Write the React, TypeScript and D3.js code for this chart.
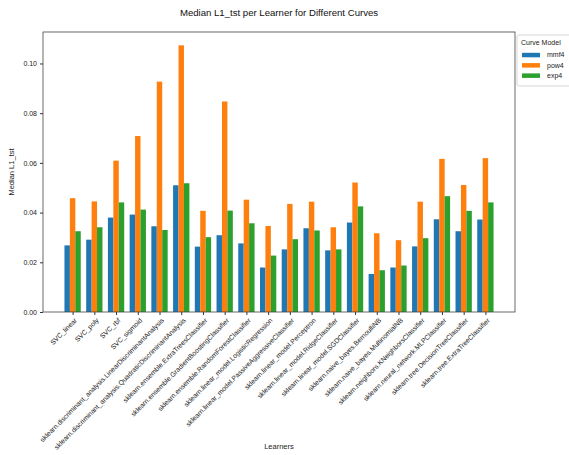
import React, { useEffect, useRef } from 'react';
import * as d3 from 'd3';

const W = 569, H = 455;
const MARGIN = { top: 32, right: 54, bottom: 143, left: 43 };
const INNER_W = W - MARGIN.left - MARGIN.right;
const INNER_H = H - MARGIN.top - MARGIN.bottom;
const FONT = '"Liberation Sans", Arial, sans-serif';

const learners = [
  'SVC_linear',
  'SVC_poly',
  'SVC_rbf',
  'SVC_sigmoid',
  'sklearn.discriminant_analysis.LinearDiscriminantAnalysis',
  'sklearn.discriminant_analysis.QuadraticDiscriminantAnalysis',
  'sklearn.ensemble.ExtraTreesClassifier',
  'sklearn.ensemble.GradientBoostingClassifier',
  'sklearn.ensemble.RandomForestClassifier',
  'sklearn.linear_model.LogisticRegression',
  'sklearn.linear_model.PassiveAggressiveClassifier',
  'sklearn.linear_model.Perceptron',
  'sklearn.linear_model.RidgeClassifier',
  'sklearn.linear_model.SGDClassifier',
  'sklearn.naive_bayes.BernoulliNB',
  'sklearn.naive_bayes.MultinomialNB',
  'sklearn.neighbors.KNeighborsClassifier',
  'sklearn.neural_network.MLPClassifier',
  'sklearn.tree.DecisionTreeClassifier',
  'sklearn.tree.ExtraTreeClassifier',
];

const mmf4 = [0.0268, 0.0291, 0.0380, 0.0392, 0.0345, 0.0510, 0.0263, 0.0309, 0.0276, 0.0179,
  0.0252, 0.0337, 0.0248, 0.0360, 0.0153, 0.0179, 0.0264, 0.0373, 0.0325, 0.0372];
const pow4 = [0.0458, 0.0445, 0.0609, 0.0708, 0.0927, 0.1073, 0.0407, 0.0847, 0.0452, 0.0346,
  0.0435, 0.0444, 0.0341, 0.0521, 0.0317, 0.0289, 0.0444, 0.0616, 0.0511, 0.0619];
const exp4 = [0.0325, 0.0341, 0.0441, 0.0412, 0.0330, 0.0518, 0.0301, 0.0408, 0.0357, 0.0227,
  0.0293, 0.0328, 0.0252, 0.0425, 0.0168, 0.0187, 0.0297, 0.0466, 0.0407, 0.0441];

const seriesNames = ['mmf4', 'pow4', 'exp4'];
const seriesColors = ['#1f77b4', '#ff7f0e', '#2ca02c'];
const yTicks = [0, 0.02, 0.04, 0.06, 0.08, 0.10];

export default function App() {
  const ref = useRef<SVGSVGElement | null>(null);

  useEffect(() => {
    const svg = d3.select(ref.current);
    svg.selectAll('*').remove();

    const series = [mmf4, pow4, exp4];
    const barW = 0.25;
    const n = learners.length;
    const lo = -1.5 * barW, hi = n - 1 + 1.5 * barW;
    const pad = (hi - lo) * 0.05;
    const x = d3.scaleLinear().domain([lo - pad, hi + pad]).range([0, INNER_W]);
    const yMax = d3.max(pow4)! * 1.05;
    const y = d3.scaleLinear().domain([0, yMax]).range([INNER_H, 0]);

    svg.append('text')
      .attr('x', MARGIN.left + INNER_W / 2).attr('y', 16)
      .attr('text-anchor', 'middle').attr('font-size', '9.6px').attr('fill', '#111')
      .text('Median L1_tst per Learner for Different Curves');

    const g = svg.append('g').attr('transform', `translate(${MARGIN.left},${MARGIN.top})`);

    // bars
    series.forEach((vals, si) => {
      g.append('g').selectAll('rect').data(vals).join('rect')
        .attr('x', (_, i) => x(i + (si - 1) * barW - barW / 2))
        .attr('width', x(barW) - x(0))
        .attr('y', d => y(d))
        .attr('height', d => INNER_H - y(d))
        .attr('fill', seriesColors[si]);
    });

    // y axis
    const yAxis = g.append('g');
    yAxis.call(d3.axisLeft(y).tickValues(yTicks).tickFormat(d3.format('.2f')).tickSize(3).tickPadding(3));
    yAxis.select('.domain').remove();
    yAxis.selectAll('line').attr('stroke', '#333');
    yAxis.selectAll('text').attr('fill', '#222').attr('font-size', '7px').attr('font-family', FONT);

    // x axis
    const xAxis = g.append('g').attr('transform', `translate(0,${INNER_H})`);
    xAxis.call(d3.axisBottom(x).tickValues(d3.range(n)).tickFormat(() => '').tickSize(3));
    xAxis.select('.domain').remove();
    xAxis.selectAll('line').attr('stroke', '#333');

    g.append('g').selectAll('text').data(learners).join('text')
      .attr('transform', (_, i) => `translate(${x(i) + 1.5},${INNER_H + 5.5}) rotate(-45)`)
      .attr('text-anchor', 'end').attr('dy', '0.7em')
      .attr('font-size', '6.8px').attr('fill', '#222')
      .text(d => d);

    // frame
    g.append('rect')
      .attr('x', 0).attr('y', 0).attr('width', INNER_W).attr('height', INNER_H)
      .attr('fill', 'none').attr('stroke', '#444').attr('stroke-width', 0.8);

    // axis labels
    svg.append('text')
      .attr('x', MARGIN.left + INNER_W / 2).attr('y', 449)
      .attr('text-anchor', 'middle').attr('font-size', '7.5px').attr('fill', '#222')
      .text('Learners');
    svg.append('text')
      .attr('transform', `translate(14,${MARGIN.top + INNER_H / 2}) rotate(-90)`)
      .attr('text-anchor', 'middle').attr('font-size', '7.5px').attr('fill', '#222')
      .text('Median L1_tst');

    // legend
    const lg = svg.append('g').attr('transform', `translate(${MARGIN.left + INNER_W + 2},${MARGIN.top + 3})`);
    lg.append('rect')
      .attr('x', 0).attr('y', 0).attr('width', 62).attr('height', 51).attr('rx', 2)
      .attr('fill', 'white').attr('stroke', '#ccc').attr('stroke-width', 0.8);
    lg.append('text').attr('x', 4).attr('y', 9.5).attr('font-size', '7px').attr('fill', '#222').text('Curve Model');
    seriesNames.forEach((name, i) => {
      const yy = 20 + i * 10.3;
      lg.append('rect').attr('x', 5).attr('y', yy - 2.2).attr('width', 18).attr('height', 4.5).attr('fill', seriesColors[i]);
      lg.append('text').attr('x', 30).attr('y', yy + 2.4).attr('font-size', '7px').attr('fill', '#222').text(name);
    });
  }, []);

  return (
    <svg ref={ref} width={W} height={H}
      style={{ position: 'absolute', left: 0, top: 0, fontFamily: FONT, background: 'white' }} />
  );
}
